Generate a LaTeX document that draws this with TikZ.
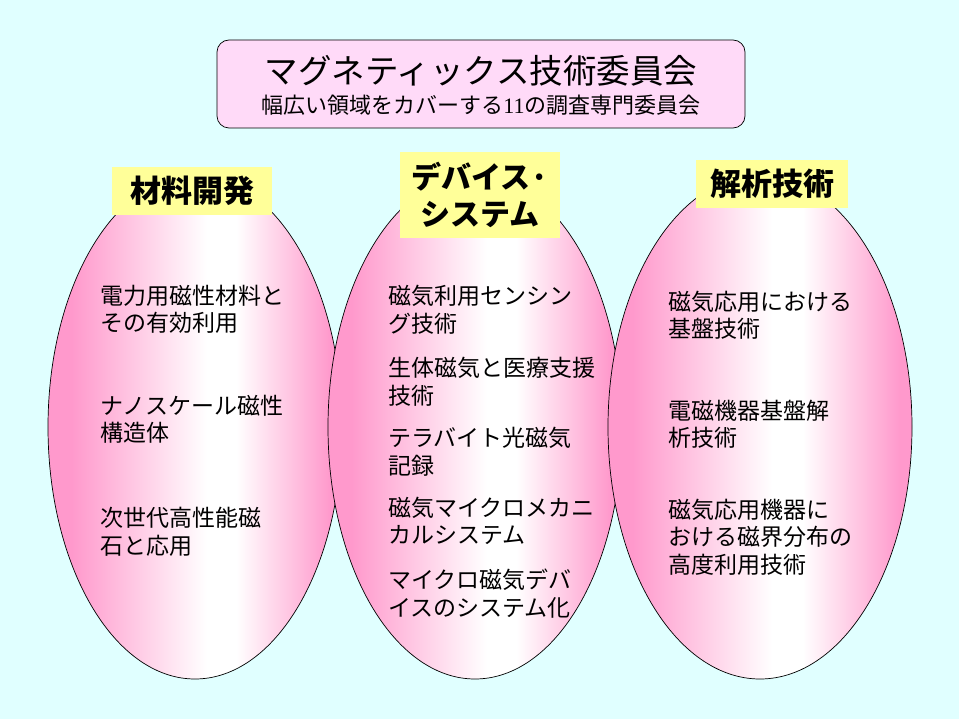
\documentclass[tikz,border=0pt]{standalone}
\usepackage{fontspec}
\setmainfont{Noto Sans CJK JP}
\newfontfamily\numfont{Liberation Serif}
\usetikzlibrary{shapes.geometric}
\definecolor{bg}{HTML}{E0FFFF}
\definecolor{pk}{HTML}{FF99CC}
\definecolor{titlefill}{HTML}{FFDAF8}
\definecolor{lab}{HTML}{FFFF99}
\pgfdeclarehorizontalshading{eggshade}{100bp}{color(0bp)=(pk); color(25bp)=(pk); color(29bp)=(pk); color(52bp)=(white); color(57bp)=(white); color(73bp)=(pk); color(75bp)=(pk); color(100bp)=(pk)}
\begin{document}
\begin{tikzpicture}[x=1pt,y=-1pt,
  egg/.style={ellipse, draw=black, line width=0.7pt, inner sep=0pt, shade, shading=eggshade, minimum height=504pt},
  lbl/.style={fill=lab, inner sep=0pt, font=\bfseries\fontsize{31}{37}\selectfont, align=center},
  body/.style={anchor=west, inner sep=0pt, align=left, font=\fontsize{23}{27.5}\selectfont}]
\fill[bg] (0,0) rectangle (959,719);
\useasboundingbox (0,0) rectangle (959,719);
% title
\node[draw, fill=titlefill, rounded corners=12pt, minimum width=528pt, minimum height=88pt, line width=0.7pt, inner sep=0pt] (title) at (481,84) {};
\node[font=\fontsize{33.5}{40}\selectfont, inner sep=0pt] (t1) at (481,71) {マグネティックス技術委員会};
\node[font=\fontsize{22}{26}\selectfont, inner sep=0pt] (t2) at (481,105) {幅広い領域をカバーする{\numfont 11}の調査専門委員会};
% ellipses
\node[egg, minimum width=294pt] (e1) at (195,427) {};
\node[egg, minimum width=294pt] (e2) at (475,427) {};
\node[egg, minimum width=304pt] (e3) at (760,427) {};
% labels
\node[lbl, minimum width=160pt, minimum height=48pt] (l1) at (192,191) {材料開発};
\node[lbl, minimum width=160pt, minimum height=86pt, font=\bfseries\fontsize{30}{37}\selectfont] (l2) at (480,195) {デバイス·\\システム};
\node[lbl, minimum width=152pt, minimum height=48pt] (l3) at (772,184) {解析技術};
% left texts
\node[body] (a1) at (100,309.5) {電力用磁性材料と\\その有効利用};
\node[body] (a2) at (100,419) {ナノスケール磁性\\構造体};
\node[body] (a3) at (100,532) {次世代高性能磁\\石と応用};
% middle texts
\node[body] (b1) at (388,309.5) {磁気利用センシン\\グ技術};
\node[body] (b2) at (388,381.5) {生体磁気と医療支援\\技術};
\node[body] (b3) at (388,451.5) {テラバイト光磁気\\記録};
\node[body] (b4) at (388,521) {磁気マイクロメカニ\\カルシステム};
\node[body] (b5) at (388,593.5) {マイクロ磁気デバ\\イスのシステム化};
% right texts
\node[body] (c1) at (668,315) {磁気応用における\\基盤技術};
\node[body] (c2) at (668,424) {電磁機器基盤解\\析技術};
\node[body] (c3) at (668,537) {磁気応用機器に\\おける磁界分布の\\高度利用技術};
\end{tikzpicture}
\end{document}
